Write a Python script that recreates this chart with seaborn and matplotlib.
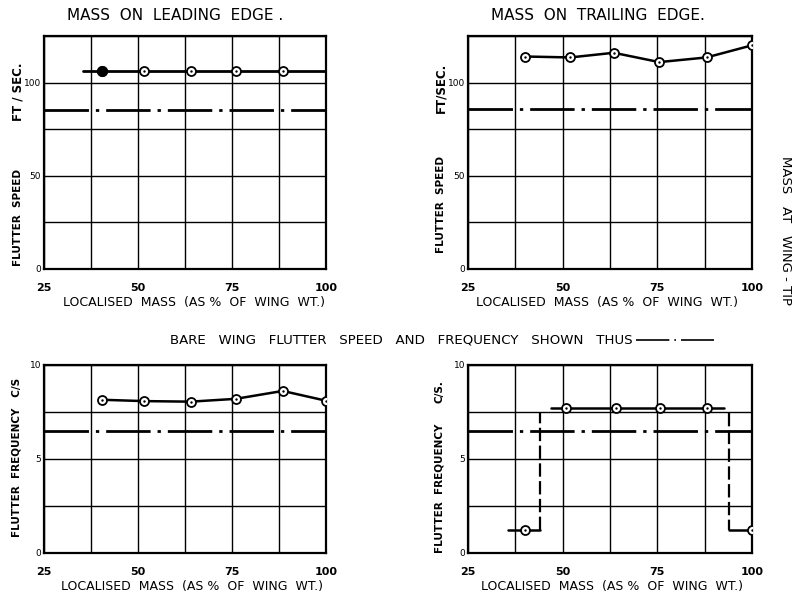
import numpy as np
import seaborn as sns
import matplotlib.pyplot as plt
from matplotlib.lines import Line2D

# values
mass_le = [40.5, 51.5, 64, 76, 88.5]
speed_le = [106, 106, 106, 106, 106]
le_line_x = [35.5, 100]
le_line_y = [106, 106]

mass_te = [40, 52, 63.5, 75.5, 88, 100]
speed_te = [114, 113.5, 116, 111, 113.5, 120]

mass_freq_le = [40.5, 51.5, 64, 76, 88.5, 100]
freq_le = [8.15, 8.08, 8.05, 8.2, 8.62, 8.1]

mass_freq_te = [40, 51, 64, 75.7, 88, 100]
freq_te = [1.25, 7.7, 7.7, 7.7, 7.7, 1.25]
te_low_left_x = [35.5, 44]
te_low_left_y = [1.25, 1.25]
te_jump_left_x = [44, 44]
te_jump_left_y = [1.25, 7.45]
te_high_x = [47, 92.5]
te_high_y = [7.7, 7.7]
te_jump_right_x = [94, 94]
te_jump_right_y = [7.45, 1.25]
te_low_right_x = [94, 100]
te_low_right_y = [1.25, 1.25]

bare_speed_le = 85.5
bare_speed_te = 86
bare_freq_le = 6.5
bare_freq_te = 6.5

x_ticks = [25, 37.5, 50, 62.5, 75, 87.5, 100]
x_labels = ['25', '', '50', '', '75', '', '100']
speed_ticks = [0, 25, 50, 75, 100, 125]
speed_labels = ['0', '', '50', '', '100', '']
freq_ticks = [0, 2.5, 5, 7.5, 10]
freq_labels = ['0', '', '5', '', '10']

sns.set_theme(style="white")
plt.rcParams['font.family'] = ['DejaVu Sans']
plt.rcParams['text.color'] = 'black'
plt.rcParams['axes.labelcolor'] = 'black'
plt.rcParams['xtick.color'] = 'black'
plt.rcParams['ytick.color'] = 'black'

W, H = 794, 600
fig = plt.figure(figsize=(W / 100, H / 100), dpi=100)


def px(x, y):
    return x / W, 1 - y / H


def make_axes(x0, y0, x1, y1, label_shift=0):
    ax = fig.add_axes([x0 / W, 1 - y1 / H, (x1 - x0) / W, (y1 - y0) / H])
    for s in ax.spines.values():
        s.set_color('black')
        s.set_linewidth(1.6)
    ax.set_xlim(25, 100)
    ax.set_xticks(x_ticks)
    ax.set_xticklabels(x_labels, fontsize=8, fontweight='bold')
    ax.tick_params(axis='x', length=0, pad=10)
    ax.tick_params(axis='y', length=0, pad=2, labelsize=6.5)
    ax.grid(True, color='black', linewidth=1.0)
    ax.set_axisbelow(True)
    ax.set_xlabel('LOCALISED  MASS  (AS %  OF  WING  WT.)', fontsize=9, labelpad=2)
    ax.xaxis.set_label_coords(0.5 + label_shift / (x1 - x0), -0.115 * 233 / (y1 - y0))
    return ax


def line(ax, x, y, **kw):
    sns.lineplot(x=x, y=y, ax=ax, color='black', estimator=None, sort=False, **kw)


dashdot = (0, (16, 2.5, 1.2, 2.5))


def points(ax, x, y, filled_first=False):
    sns.scatterplot(x=x, y=y, ax=ax, marker='o', s=42, color='white',
                    edgecolor='black', linewidth=1.3, zorder=5)
    sns.scatterplot(x=x, y=y, ax=ax, marker='o', s=3, color='black',
                    edgecolor='black', linewidth=0, zorder=6)
    if filled_first:
        sns.scatterplot(x=x[:1], y=y[:1], ax=ax, marker='o', s=55, color='black',
                        edgecolor='black', zorder=7)


# top left: mass on leading edge, speed
ax1 = make_axes(44, 36, 326, 269, label_shift=9)
ax1.set_ylim(0, 125)
ax1.set_yticks(speed_ticks)
ax1.set_yticklabels(speed_labels)
ax1.axhline(bare_speed_le, color='black', lw=2, linestyle=dashdot)
line(ax1, le_line_x, le_line_y, lw=2)
points(ax1, mass_le, speed_le, filled_first=True)

# top right: mass on trailing edge, speed
ax2 = make_axes(468, 36, 752, 269, label_shift=-3)
ax2.set_ylim(0, 125)
ax2.set_yticks(speed_ticks)
ax2.set_yticklabels(speed_labels)
ax2.axhline(bare_speed_te, color='black', lw=2, linestyle=dashdot)
line(ax2, mass_te, speed_te, lw=1.8)
points(ax2, mass_te, speed_te)

# bottom left: frequency, leading edge
ax3 = make_axes(44, 365, 326, 553, label_shift=7)
ax3.set_ylim(0, 10)
ax3.set_yticks(freq_ticks)
ax3.set_yticklabels(freq_labels)
ax3.axhline(bare_freq_le, color='black', lw=2, linestyle=dashdot)
line(ax3, mass_freq_le, freq_le, lw=1.8)
points(ax3, mass_freq_le, freq_le)

# bottom right: frequency, trailing edge
ax4 = make_axes(468, 365, 752, 553, label_shift=2)
ax4.set_ylim(0, 10)
ax4.set_yticks(freq_ticks)
ax4.set_yticklabels(freq_labels)
ax4.axhline(bare_freq_te, color='black', lw=2, linestyle=dashdot)
for sx, sy in [(te_low_left_x, te_low_left_y), (te_high_x, te_high_y),
               (te_low_right_x, te_low_right_y)]:
    line(ax4, sx, sy, lw=1.8)
for sx, sy in [(te_jump_left_x, te_jump_left_y), (te_jump_right_x, te_jump_right_y)]:
    line(ax4, sx, sy, lw=1.6, linestyle=(0, (6, 2)))
points(ax4, mass_freq_te, freq_te)

# titles and axis captions
fig.text(*px(175, 15), 'MASS  ON  LEADING  EDGE .', ha='center', va='center', fontsize=11)
fig.text(*px(598, 15), 'MASS  ON  TRAILING  EDGE.', ha='center', va='center', fontsize=11)

fig.text(*px(18, 217), 'FLUTTER  SPEED', rotation=90, ha='center', va='center',
         fontsize=7.5, fontweight='bold')
fig.text(*px(18, 92), 'FT / SEC.', rotation=90, ha='center', va='center',
         fontsize=8.5, fontweight='bold')
fig.text(*px(441, 204), 'FLUTTER  SPEED', rotation=90, ha='center', va='center',
         fontsize=7.5, fontweight='bold')
fig.text(*px(441, 88), 'FT/SEC.', rotation=90, ha='center', va='center',
         fontsize=8.5, fontweight='bold')
fig.text(*px(17, 457), 'FLUTTER  FREQUENCY   C/S', rotation=90, ha='center', va='center',
         fontsize=7.5, fontweight='bold')
fig.text(*px(440, 488), 'FLUTTER  FREQUENCY', rotation=90, ha='center', va='center',
         fontsize=7.5, fontweight='bold')
fig.text(*px(440, 392), 'C/S.', rotation=90, ha='center', va='center',
         fontsize=7.5, fontweight='bold')

fig.text(*px(785, 230), 'MASS   AT   WING - TIP', rotation=-90, ha='center', va='center',
         fontsize=9.5)

cap = fig.text(*px(170, 340), 'BARE   WING   FLUTTER   SPEED   AND   FREQUENCY   SHOWN   THUS',
               ha='left', va='center', fontsize=9.6)
fig.canvas.draw()
bb = cap.get_window_extent()
x0 = (bb.x1 + 3) / W
y0 = 1 - 340 / H
fig.add_artist(Line2D([x0, x0 + 78 / W], [y0, y0], color='black', lw=1.2,
                      linestyle=(0, (20, 3, 1, 3)), transform=fig.transFigure))

fig.savefig('out.png', dpi=100)
